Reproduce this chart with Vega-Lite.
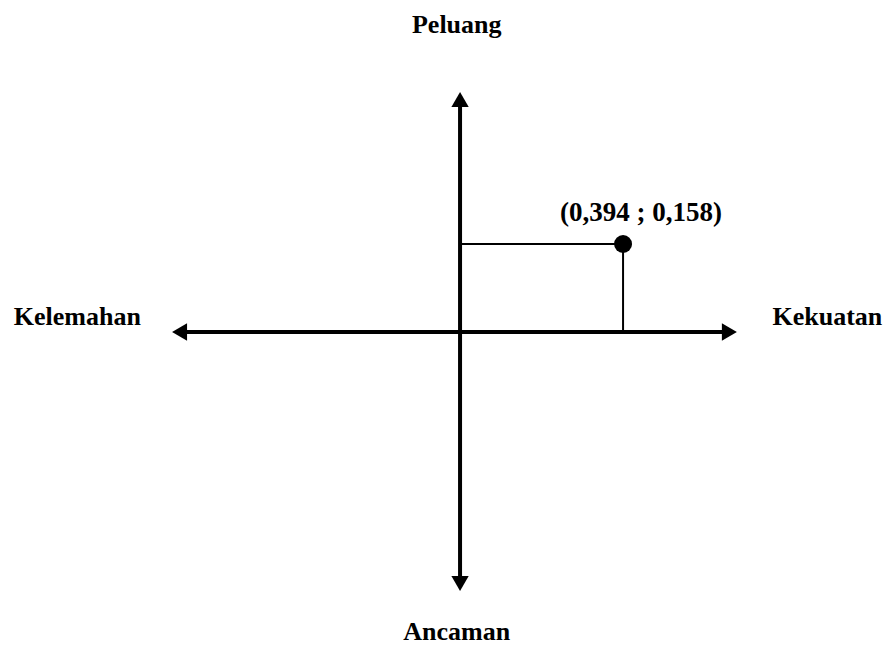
{
  "$schema": "https://vega.github.io/schema/vega-lite/v6.json",
  "width": 887,
  "height": 649,
  "padding": 0,
  "autosize": {"type": "none"},
  "background": "white",
  "config": {"view": {"stroke": null}},
  "datasets": {
    "axes": [
      {"name": "horizontal", "x": -0.678, "x2": 0.651, "y": 0, "y2": 0},
      {"name": "vertical", "x": 0, "x2": 0, "y": -0.4515, "y2": 0.4174}
    ],
    "guides": [
      {"name": "ke sumbu y", "x": 0, "x2": 0.394, "y": 0.158, "y2": 0.158},
      {"name": "ke sumbu x", "x": 0.394, "x2": 0.394, "y": 0, "y2": 0.158}
    ],
    "heads": [
      {"dir": "kiri", "x": -0.678, "y": 0},
      {"dir": "kanan", "x": 0.651, "y": 0},
      {"dir": "atas", "x": 0, "y": 0.4174},
      {"dir": "bawah", "x": 0, "y": -0.4515}
    ],
    "labels": [
      {"label": "Peluang", "x": -0.008, "y": 0.551},
      {"label": "Ancaman", "x": -0.008, "y": -0.539},
      {"label": "Kelemahan", "x": -0.925, "y": 0.027},
      {"label": "Kekuatan", "x": 0.888, "y": 0.027}
    ],
    "point": [
      {"x": 0.394, "y": 0.158, "label": "(0,394 ; 0,158)"}
    ]
  },
  "layer": [
    {
      "data": {"name": "axes"},
      "mark": {"type": "rule", "color": "black", "strokeWidth": 4},
      "encoding": {
        "x": {"field": "x", "type": "quantitative", "scale": {"domain": [-1.112, 1.032], "nice": false, "zero": false}, "axis": null},
        "x2": {"field": "x2"},
        "y": {"field": "y", "type": "quantitative", "scale": {"domain": [-0.569, 0.596], "nice": false, "zero": false}, "axis": null},
        "y2": {"field": "y2"}
      }
    },
    {
      "data": {"name": "guides"},
      "mark": {"type": "rule", "color": "black", "strokeWidth": 2},
      "encoding": {
        "x": {"field": "x", "type": "quantitative", "scale": {"domain": [-1.112, 1.032], "nice": false, "zero": false}, "axis": null},
        "x2": {"field": "x2"},
        "y": {"field": "y", "type": "quantitative", "scale": {"domain": [-0.569, 0.596], "nice": false, "zero": false}, "axis": null},
        "y2": {"field": "y2"}
      }
    },
    {
      "data": {"name": "heads"},
      "mark": {"type": "point", "filled": true, "color": "black", "opacity": 1, "size": 300},
      "encoding": {
        "x": {"field": "x", "type": "quantitative", "scale": {"domain": [-1.112, 1.032], "nice": false, "zero": false}, "axis": null},
        "y": {"field": "y", "type": "quantitative", "scale": {"domain": [-0.569, 0.596], "nice": false, "zero": false}, "axis": null},
        "shape": {"field": "dir", "type": "nominal", "scale": {"domain": ["kiri", "kanan", "atas", "bawah"], "range": ["triangle-left", "triangle-right", "triangle-up", "triangle-down"]}, "legend": null}
      }
    },
    {
      "data": {"name": "point"},
      "mark": {"type": "point", "filled": true, "color": "black", "opacity": 1, "size": 324, "shape": "circle"},
      "encoding": {
        "x": {"field": "x", "type": "quantitative", "scale": {"domain": [-1.112, 1.032], "nice": false, "zero": false}, "axis": null},
        "y": {"field": "y", "type": "quantitative", "scale": {"domain": [-0.569, 0.596], "nice": false, "zero": false}, "axis": null}
      }
    },
    {
      "data": {"name": "point"},
      "mark": {"type": "text", "font": "Liberation Serif", "fontWeight": "bold", "fontSize": 27, "color": "black", "align": "center", "baseline": "middle", "dx": 18, "dy": -31},
      "encoding": {
        "x": {"field": "x", "type": "quantitative", "scale": {"domain": [-1.112, 1.032], "nice": false, "zero": false}, "axis": null},
        "y": {"field": "y", "type": "quantitative", "scale": {"domain": [-0.569, 0.596], "nice": false, "zero": false}, "axis": null},
        "text": {"field": "label"}
      }
    },
    {
      "data": {"name": "labels"},
      "mark": {"type": "text", "font": "Liberation Serif", "fontWeight": "bold", "fontSize": 26, "color": "black", "align": "center", "baseline": "middle"},
      "encoding": {
        "x": {"field": "x", "type": "quantitative", "scale": {"domain": [-1.112, 1.032], "nice": false, "zero": false}, "axis": null},
        "y": {"field": "y", "type": "quantitative", "scale": {"domain": [-0.569, 0.596], "nice": false, "zero": false}, "axis": null},
        "text": {"field": "label"}
      }
    }
  ]
}
